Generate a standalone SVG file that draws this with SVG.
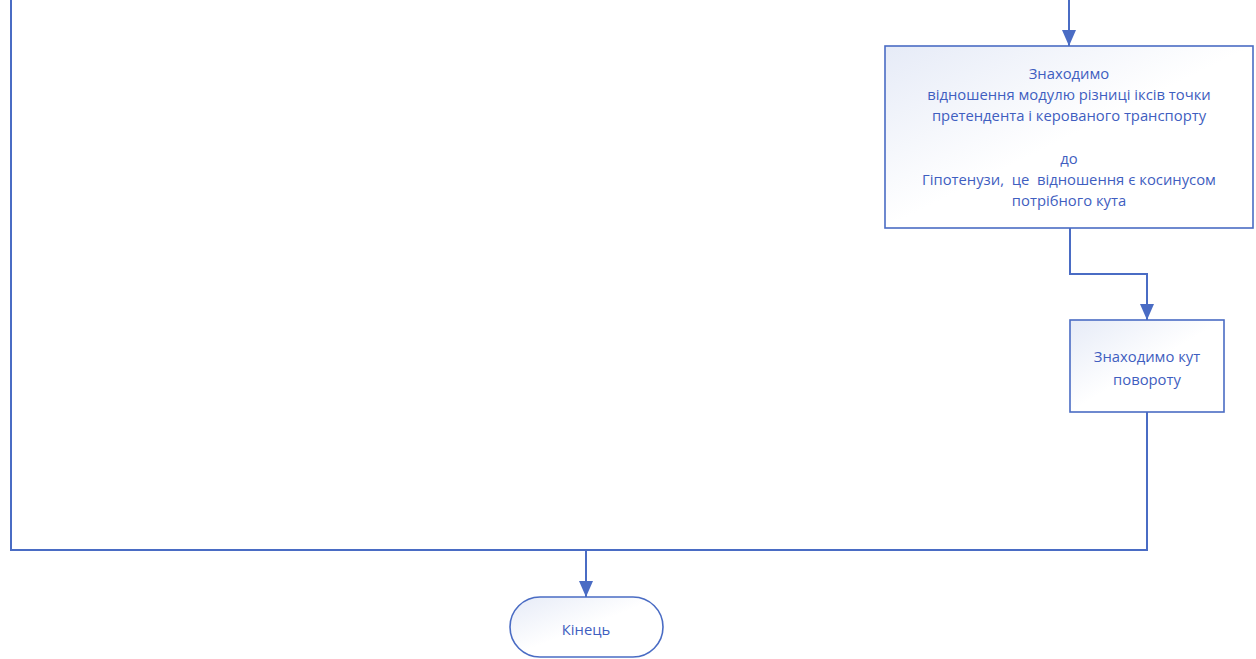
<svg xmlns="http://www.w3.org/2000/svg" width="1256" height="659" viewBox="0 0 1256 659">
<style>
.box{fill:url(#g);stroke:#4a6cc4;stroke-width:1.6}
.ln{fill:none;stroke:#4a6cc4;stroke-width:2}
.t{font-family:"Open Sans","Liberation Sans",sans-serif;font-size:14.8px;fill:#3f5ec0;text-anchor:middle}
</style>
<defs>
<linearGradient id="g" x1="0" y1="0" x2="1" y2="1">
<stop offset="0" stop-color="#e6ebf7"/>
<stop offset="0.5" stop-color="#ffffff"/>
<stop offset="1" stop-color="#ffffff"/>
</linearGradient>
<marker id="a" markerWidth="16" markerHeight="14" refX="16" refY="7" orient="auto" markerUnits="userSpaceOnUse" viewBox="0 0 16 14">
<path d="M0,0 L16,7 L0,14 Z" fill="#4a6cc4"/>
</marker>
</defs>
<rect width="1256" height="659" fill="#ffffff"/>
<g id="connectors">
<path class="ln" d="M1069,0 V46" marker-end="url(#a)"/>
<path class="ln" d="M1070,228 V274 H1147 V320" marker-end="url(#a)"/>
<path class="ln" d="M1147,412 V550 H11 V0"/>
<path class="ln" d="M586,550 V597" marker-end="url(#a)"/>
</g>
<g id="node1">
<rect class="box" x="885" y="46" width="368" height="182"/>
<text class="t" x="1069" y="79">Знаходимо</text>
<text class="t" x="1069" y="100">відношення модулю різниці іксів точки</text>
<text class="t" x="1069" y="121">претендента і керованого транспорту</text>
<text class="t" x="1069" y="164">до</text>
<text class="t" x="1069" y="185" xml:space="preserve">Гіпотенузи,  це  відношення є косинусом</text>
<text class="t" x="1069" y="206">потрібного кута</text>
</g>
<g id="node2">
<rect class="box" x="1070" y="320" width="154" height="92"/>
<text class="t" x="1147" y="362">Знаходимо кут</text>
<text class="t" x="1147" y="385">повороту</text>
</g>
<g id="end">
<rect class="box" x="510" y="597" width="153" height="60" rx="30" ry="30"/>
<text class="t" x="586" y="635">Кінець</text>
</g>
</svg>
